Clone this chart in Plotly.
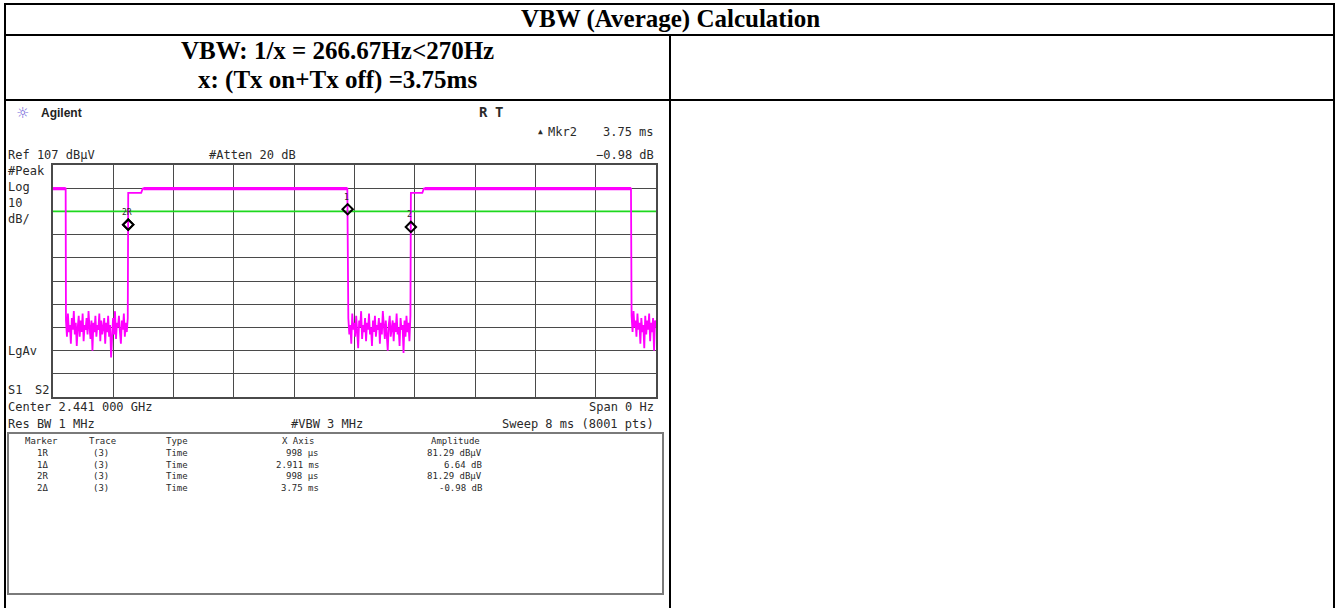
import numpy as np
import plotly.graph_objects as go

W, H = 1339, 608

# ---- analyzer settings -------------------------------------------------
sweep_ms = 8.0
ref_level = 107          # dBµV, top of graticule
div_db = 10              # dB per division
n_div = 10
display_line = 87        # dBµV

# ---- burst (Tx on) plateaus, ms -----------------------------------------
burst_start = [0.0, 0.998, 4.748]
burst_end = [0.168, 3.905, 7.668]
burst_level = 96.8
settle_end = [0.0, 1.17, 4.90]
settle_level = 95.0

# ---- Tx off noise floor samples, dBµV -----------------------------------
noise_a = [40, 33, 43, 35, 38, 30, 41, 36, 44, 34, 39, 29, 37, 42, 33, 40,
           35, 43, 31, 38, 36, 41, 34, 44, 37, 32, 40, 27, 39, 35, 42, 33,
           38, 36, 43, 31, 40, 34, 37, 41, 30, 39, 35, 42, 33, 38, 24, 36,
           41, 34, 44, 32, 39, 37, 42, 35, 30, 40, 36, 43, 33, 39, 35, 41]
noise_b = [41, 34, 38, 30, 43, 36, 39, 33, 42, 35, 28, 40, 37, 44, 32, 38,
           35, 41, 31, 39, 36, 43, 34, 37, 29, 40, 35, 42, 33, 38, 36, 41,
           30, 39, 34, 44, 37, 32, 40, 35, 27, 38, 42, 33, 36, 40, 31, 39,
           35, 43, 34, 37, 29, 41, 36, 38, 26, 40, 33, 42, 35, 39, 31, 42]
noise_c = [42, 35, 44, 37, 40, 33, 43, 36, 39, 30, 41, 35, 38, 28, 42, 34,
           40, 36, 43, 31, 39, 35, 41, 27, 40, 37]
noise_start = [0.172, 3.918, 7.676]
noise_end = [0.992, 4.742, 8.0]

# ---- marker table ---------------------------------------------------------
marker_name = ["1R", "1Δ", "2R", "2Δ"]
marker_trace = ["(3)", "(3)", "(3)", "(3)"]
marker_type = ["Time", "Time", "Time", "Time"]
marker_x = [0.998, 2.911, 0.998, 3.75]      # ms (delta markers relative to ref)
marker_amp = [81.29, 6.64, 81.29, -0.98]    # dBµV (ref) / dB (delta)
marker_ref = [None, 0, None, 2]             # index of reference marker
marker_tag = ["", "1", "2R", "2"]

# ---------------------------------------------------------------------------
MONO = "DejaVu Sans Mono"
SERIF = "Liberation Serif"
TXT = "#2a2a2a"

# graticule position on the page (px)
gx0, gx1 = 53, 656
gy0, gy1 = 165, 397

# assemble the trace from plateaus and noise
noises = [noise_a, noise_b, noise_c]
tx, ty = [], []
for i in range(3):
    if i > 0:
        tx += [burst_start[i], settle_end[i], settle_end[i] + 0.02]
        ty += [settle_level, settle_level, burst_level]
    tx += [burst_start[i] if i == 0 else settle_end[i] + 0.02, burst_end[i]]
    ty += [burst_level, burst_level]
    xs = np.linspace(noise_start[i], noise_end[i], len(noises[i]))
    tx += list(xs)
    ty += noises[i]

fig = go.Figure()

# display line
fig.add_trace(go.Scatter(x=[0, sweep_ms], y=[display_line, display_line],
                         mode="lines", line=dict(color="#1ed81e", width=1.6),
                         hoverinfo="skip"))
# trace
fig.add_trace(go.Scatter(x=tx, y=ty, mode="lines",
                         line=dict(color="#ff00ff", width=1.8),
                         hoverinfo="skip"))
# thicker on-state plateaus
for i in range(3):
    s = burst_start[i] if i == 0 else settle_end[i] + 0.03
    fig.add_trace(go.Scatter(x=[s, burst_end[i]], y=[burst_level, burst_level],
                             mode="lines", line=dict(color="#ff00ff", width=3.2),
                             hoverinfo="skip"))

# absolute marker positions
abs_t, abs_a = [], []
for i in range(4):
    r = marker_ref[i]
    if r is None:
        abs_t.append(marker_x[i]); abs_a.append(marker_amp[i])
    else:
        abs_t.append(marker_x[r] + marker_x[i]); abs_a.append(marker_amp[r] + marker_amp[i])

fig.add_trace(go.Scatter(x=abs_t, y=abs_a, mode="markers",
                         marker=dict(symbol="diamond-open", size=8,
                                     color="black", line=dict(width=2, color="black")),
                         hoverinfo="skip"))

ann = []
for i in range(4):
    if marker_tag[i]:
        ann.append(dict(x=abs_t[i], y=abs_a[i], xref="x", yref="y", text=marker_tag[i],
                        showarrow=False, yshift=12, xshift=-1, font=dict(family=MONO, size=8, color=TXT)))


def label(x, y, text, size=12, anchor="left", color=TXT, family=MONO, bold=False):
    if bold:
        text = "<b>" + text + "</b>"
    ann.append(dict(x=x / W, y=1 - y / H, xref="paper", yref="paper", text=text,
                    showarrow=False, xanchor=anchor, yanchor="middle", borderpad=0,
                    font=dict(family=family, size=size, color=color)))


# ---- table header texts ----
period_ms = marker_x[3]
label(670, 19, "VBW (Average) Calculation", size=25, anchor="center",
      color="black", family=SERIF, bold=True)
label(337, 51, "VBW: 1/x = %.2fHz&lt;270Hz" % (1000.0 / period_ms), size=25,
      anchor="center", color="black", family=SERIF, bold=True)
label(337, 80, "x: (Tx on+Tx off) =%.2fms" % period_ms, size=25,
      anchor="center", color="black", family=SERIF, bold=True)

# ---- analyzer annotations ----
label(22, 113, "☼", size=15, anchor="center", color="#6f63d8", family="DejaVu Sans")
label(40, 113, "Agilent", size=12, color="#222", family="Liberation Sans", bold=True)
label(478, 112, "R", size=14, bold=True)
label(494, 112, "T", size=14, bold=True)
label(537, 132, "▲", size=8)
label(547, 132, "Mkr2", size=12)
label(655, 132, "%.2f ms" % marker_x[3], size=12, anchor="right")
label(7, 155, "Ref %d dBµV" % ref_level, size=12)
label(208, 155, "#Atten 20 dB", size=12)
label(655, 155, "−%.2f dB" % abs(marker_amp[3]), size=12, anchor="right")
label(7, 171, "#Peak", size=12)
label(7, 187, "Log", size=12)
label(7, 203, "%d" % div_db, size=12)
label(7, 219, "dB/", size=12)
label(7, 351, "LgAv", size=12)
label(7, 390, "S1", size=12)
label(34, 390, "S2", size=12)
label(7, 407, "Center 2.441 000 GHz", size=12)
label(655, 407, "Span 0 Hz", size=12, anchor="right")
label(7, 424, "Res BW 1 MHz", size=12)
label(290, 424, "#VBW 3 MHz", size=12)
label(655, 424, "Sweep %d ms (8001 pts)" % sweep_ms, size=12, anchor="right")

# marker table
label(41, 441, "Marker", size=9, anchor="center")
label(102, 441, "Trace", size=9, anchor="center")
label(177, 441, "Type", size=9, anchor="center")
label(298, 441, "X Axis", size=9, anchor="center")
label(455, 441, "Amplitude", size=9, anchor="center")


def fmt_x(v):
    return "%d µs" % round(v * 1000) if v < 1 else ("%g ms" % v)


def fmt_a(i):
    if marker_ref[i] is None:
        return "%.2f dBµV" % marker_amp[i]
    return "%.2f dB" % marker_amp[i]


for i in range(4):
    yy = 453 + i * 11.7
    label(42, yy, marker_name[i], size=9, anchor="center")
    label(101, yy, marker_trace[i], size=9, anchor="center")
    label(177, yy, marker_type[i], size=9, anchor="center")
    label(320, yy, fmt_x(marker_x[i]), size=9, anchor="right")
    label(483, yy, fmt_a(i), size=9, anchor="right")

# ---- shapes: table grid and marker box ----
shapes = []


def line(x0, y0, x1, y1, color="black", width=2):
    shapes.append(dict(type="line", xref="paper", yref="paper",
                       x0=x0 / W, x1=x1 / W, y0=1 - y0 / H, y1=1 - y1 / H,
                       line=dict(color=color, width=width), layer="above"))


line(4, 4, 1335, 4)
line(4, 35, 1335, 35)
line(4, 100, 1335, 100)
line(5, 3, 5, 608)
line(1334, 3, 1334, 608)
line(670, 35, 670, 608)
shapes.append(dict(type="rect", xref="paper", yref="paper",
                   x0=8 / W, x1=663 / W, y0=1 - 433 / H, y1=1 - 594 / H,
                   line=dict(color="#7a7a7a", width=2), layer="below"))

fig.update_layout(
    width=W, height=H, margin=dict(l=0, r=0, t=0, b=0),
    paper_bgcolor="white", plot_bgcolor="white", showlegend=False,
    annotations=ann, shapes=shapes,
    xaxis=dict(domain=[gx0 / W, gx1 / W], range=[0, sweep_ms], tick0=0, dtick=sweep_ms / n_div,
               showgrid=True, gridcolor="#4a4a4a", gridwidth=1.3, showticklabels=False,
               ticks="", zeroline=False, showline=True, linecolor="#4a4a4a", linewidth=2,
               mirror=True, fixedrange=True),
    yaxis=dict(domain=[1 - gy1 / H, 1 - gy0 / H],
               range=[ref_level - n_div * div_db, ref_level], tick0=ref_level, dtick=div_db,
               showgrid=True, gridcolor="#4a4a4a", gridwidth=1.3, showticklabels=False,
               ticks="", zeroline=False, showline=True, linecolor="#4a4a4a", linewidth=2,
               mirror=True, fixedrange=True),
)

fig.write_html("out.html")
